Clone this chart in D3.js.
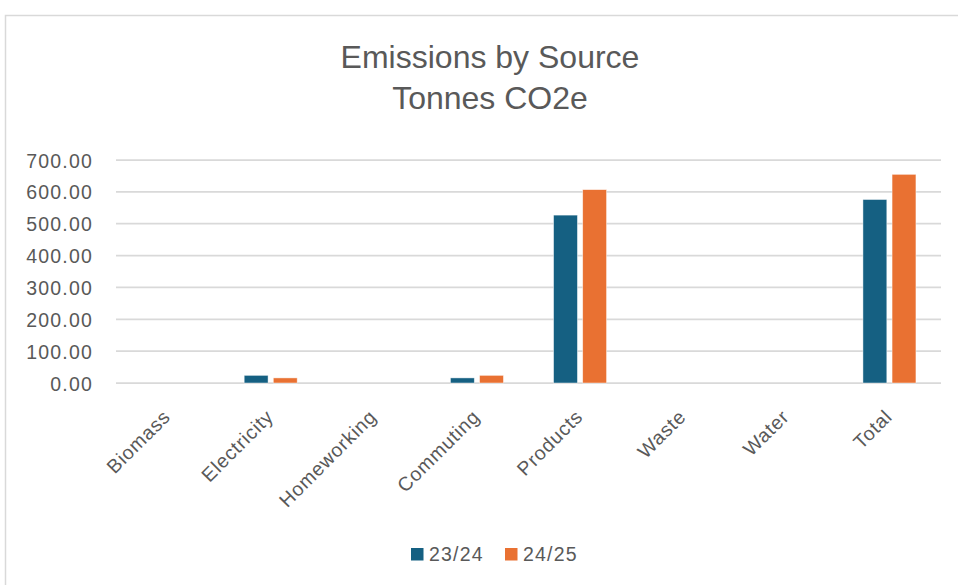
<!DOCTYPE html>
<html>
<head>
<meta charset="utf-8">
<script src="https://cdn.jsdelivr.net/npm/d3@7"></script>
<style>
  body { margin: 0; background: #fff; }
  svg { display: block; }
</style>
</head>
<body>
<svg id="chart"></svg>
<script>
// values
const categories = ["Biomass", "Electricity", "Homeworking", "Commuting", "Products", "Waste", "Water", "Total"]
const series = ["23/24", "24/25"]
const v2324 = [0, 24, 0, 16, 527, 0, 0, 576]
const v2425 = [0, 16, 0, 24, 607, 0, 0, 655]
const yTicks = [0, 100, 200, 300, 400, 500, 600, 700]
const colors = ["#156082", "#E97132"]

const W = 958, H = 585
const margin = {top: 160, right: 17, bottom: 202, left: 116}
const width = W - margin.left - margin.right
const height = H - margin.top - margin.bottom
const font = "'Liberation Sans', Arial, sans-serif"

const data = categories.map((c, i) => ({cat: c, "23/24": v2324[i], "24/25": v2425[i]}))

const svg = d3.select("#chart").attr("width", W).attr("height", H)

// chart frame
svg.append("rect")
  .attr("x", 5.5).attr("y", 15.5)
  .attr("width", W + 20).attr("height", H + 20)
  .attr("fill", "#fff").attr("stroke", "#d9d9d9").attr("stroke-width", 1.5)

// title
const title = svg.append("text")
  .attr("text-anchor", "middle")
  .attr("fill", "#595959")
  .attr("transform", "translate(490,0)")
  .style("font-family", font)
  .style("font-size", "32px")
title.append("tspan").attr("x", 0).attr("y", 68).text("Emissions by Source")
title.append("tspan").attr("x", 0).attr("y", 108.5).text("Tonnes CO2e")

const g = svg.append("g").attr("transform", `translate(${margin.left},${margin.top})`)

const x = d3.scaleBand().domain(categories).range([0, width])
const x1 = d3.scaleBand().domain(series).range([0, 53]).paddingInner(0.18)
const y = d3.scaleLinear().domain([0, 700]).range([height, 0])

// gridlines
g.append("g")
  .selectAll("line")
  .data(yTicks)
  .enter().append("line")
    .attr("x1", 0).attr("x2", width)
    .attr("y1", d => y(d)).attr("y2", d => y(d))
    .attr("stroke", "#d9d9d9").attr("stroke-width", 1.75)

// y axis labels
const yAxis = g.append("g")
  .call(d3.axisLeft(y).tickValues(yTicks).tickFormat(d3.format(".2f")).tickSize(0).tickPadding(23))
yAxis.select(".domain").remove()
yAxis.selectAll("text")
  .attr("fill", "#595959")
  .attr("dy", "0.36em")
  .style("font-family", font)
  .style("font-size", "19.5px")
  .style("letter-spacing", "1.2px")

// bars
g.append("g")
  .selectAll("g")
  .data(data)
  .enter().append("g")
    .attr("transform", d => "translate(" + (x(d.cat) + (x.bandwidth() - 53) / 2) + ",0)")
    .selectAll("rect")
    .data(d => series.map(s => ({key: s, value: d[s]})))
    .enter().append("rect")
      .attr("x", d => x1(d.key))
      .attr("y", d => y(d.value))
      .attr("width", x1.bandwidth())
      .attr("height", d => y(0) - y(d.value))
      .attr("fill", (d, i) => colors[i])
      .attr("stroke", "#fff").attr("stroke-opacity", 0.6).attr("stroke-width", 0.75)

// x axis labels
const xAxis = g.append("g")
  .attr("transform", "translate(0," + height + ")")
  .call(d3.axisBottom(x).tickSize(0).tickSizeOuter(0))
xAxis.select(".domain").remove()
xAxis.selectAll("text")
  .attr("fill", "#595959")
  .style("font-family", font)
  .style("font-size", "19.5px")
  .style("letter-spacing", "0.8px")
  .attr("text-anchor", "end")
  .attr("x", 0).attr("y", 0).attr("dy", 0)
  .attr("transform", "translate(4,35) rotate(-45)")

// legend
const legend = svg.append("g").attr("transform", "translate(411,548)")
const items = legend.selectAll("g")
  .data(series)
  .enter().append("g")
    .attr("transform", (d, i) => "translate(" + (i * 94) + ",0)")
items.append("rect")
  .attr("width", 12.5).attr("height", 12.5)
  .attr("fill", (d, i) => colors[i])
items.append("text")
  .attr("x", 18).attr("y", 12.5)
  .attr("fill", "#595959")
  .style("font-family", font)
  .style("font-size", "19.5px")
  .style("letter-spacing", "1.2px")
  .text(d => d)
</script>
</body>
</html>
